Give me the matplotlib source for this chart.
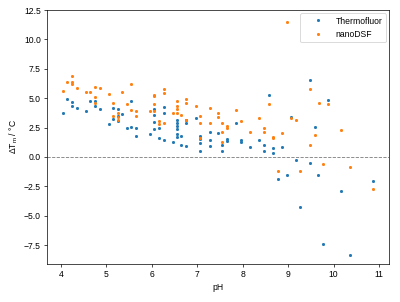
import matplotlib
matplotlib.use("Agg")
import matplotlib.pyplot as plt

plt.rcParams['font.family'] = ['Liberation Sans', 'DejaVu Sans']

# Thermofluor measurements (pH, delta Tm)
tf_ph = [4.04, 4.14, 4.23, 4.23, 4.34, 4.54, 4.64, 4.75, 4.75, 4.85,
         5.05, 5.15, 5.15, 5.25, 5.25, 5.25, 5.34, 5.45, 5.55, 5.55,
         5.65, 5.65, 5.96, 6.05, 6.05, 6.05, 6.05, 6.15, 6.15, 6.27,
         6.27, 6.27, 6.46, 6.55, 6.55, 6.55, 6.55, 6.55, 6.55, 6.65,
         6.65, 6.76, 6.76, 6.76, 6.96, 7.05, 7.05, 7.05, 7.05, 7.27,
         7.27, 7.27, 7.46, 7.55, 7.55, 7.66, 7.66, 7.85, 7.96, 7.96,
         8.16, 8.36, 8.47, 8.47, 8.58, 8.67, 8.67, 8.87, 9.07, 9.17,
         8.77, 8.97, 9.27, 9.48, 9.47, 9.59, 9.66, 9.77, 9.87, 10.17,
         10.37, 10.87]
tf_dtm = [3.72, 4.91, 4.66, 4.37, 4.20, 3.89, 4.74, 4.74, 4.34, 4.06,
          2.78, 4.20, 3.26, 4.06, 3.49, 3.09, 3.66, 2.47, 2.53, 4.79,
          2.47, 1.76, 1.96, 4.06, 3.57, 3.00, 2.36, 2.49, 1.59, 4.28,
          3.77, 1.45, 1.25, 3.15, 2.92, 2.64, 2.36, 1.96, 1.68, 1.79,
          1.00, 3.15, 2.87, 0.94, 3.29, 1.79, 1.51, 1.22, 0.54, 2.15,
          1.45, 0.96, 2.02, 0.98, 0.48, 1.51, 1.36, 2.87, 1.45, 1.30,
          0.88, 1.45, 1.02, 0.54, 5.28, 0.74, 0.37, 0.83, 3.43, -0.22,
          -1.85, -1.53, -4.26, 6.55, -0.54, 2.53, -1.53, -7.38, 4.85, -2.89,
          -8.34, -2.07]

# nanoDSF measurements (pH, delta Tm)
nd_ph = [4.04, 4.14, 4.23, 4.23, 4.23, 4.34, 4.54, 4.64, 4.75, 4.85,
         4.75, 4.75, 5.05, 5.34, 5.55, 5.15, 5.45, 5.25, 5.25, 5.15,
         5.25, 5.55, 5.65, 5.65, 5.96, 6.05, 6.05, 6.05, 6.05, 6.15,
         6.15, 6.27, 6.27, 6.27, 6.46, 6.55, 6.55, 6.55, 6.55, 6.65,
         6.76, 6.76, 6.76, 6.96, 7.05, 7.05, 7.05, 7.27, 7.27, 7.46,
         7.46, 7.55, 7.55, 7.55, 7.66, 7.66, 7.85, 7.96, 8.16, 8.36,
         8.47, 8.47, 8.58, 8.67, 8.67, 8.87, 8.97, 9.07, 9.17, 9.48,
         9.68, 9.87, 9.59, 10.17, 9.48, 9.77, 10.37, 8.77, 9.27, 10.87]
nd_dtm = [5.62, 6.38, 6.92, 6.38, 6.21, 5.90, 5.51, 5.51, 5.98, 5.90,
          5.08, 4.62, 5.34, 5.51, 6.21, 4.60, 4.49, 3.74, 3.40, 3.51,
          3.15, 4.00, 3.89, 3.49, 3.89, 5.30, 5.19, 4.49, 3.89, 3.06,
          2.78, 5.76, 5.47, 2.92, 3.72, 4.79, 4.34, 4.06, 3.72, 3.60,
          4.91, 4.62, 3.15, 4.34, 3.49, 2.92, 1.59, 4.17, 2.92, 3.72,
          3.43, 2.92, 2.15, 1.30, 2.64, 2.44, 4.00, 3.09, 2.15, 3.29,
          2.44, 2.15, 4.51, 1.73, 1.59, 2.07, 11.46, 3.35, 3.18, 5.79,
          4.60, 4.49, 1.87, 2.30, 1.00, -0.60, -0.88, -1.19, -1.19, -2.72]

fig = plt.figure(figsize=(6.4, 4.832), dpi=62.5)
ax = fig.add_axes([47 / 400, 38 / 302, 342 / 400, 254 / 302])

ax.plot(tf_ph, tf_dtm, '.', color='tab:blue', markersize=5, label='Thermofluor')
ax.plot(nd_ph, nd_dtm, '.', color='tab:orange', markersize=5, label='nanoDSF')
ax.axhline(0, color='grey', linestyle='--', linewidth=1)

ax.set_xlim(3.69, 11.22)
ax.set_ylim(-9.1, 12.5)
ax.set_yticks([-7.5, -5.0, -2.5, 0.0, 2.5, 5.0, 7.5, 10.0, 12.5])
ax.set_xlabel('pH')
ax.set_ylabel('ΔT$_\\mathregular{m}$ / °C')
ax.legend(loc='upper right', handlelength=3.3, handletextpad=0.4,
          borderaxespad=0.35)

fig.savefig('out.png', dpi=62.5)
